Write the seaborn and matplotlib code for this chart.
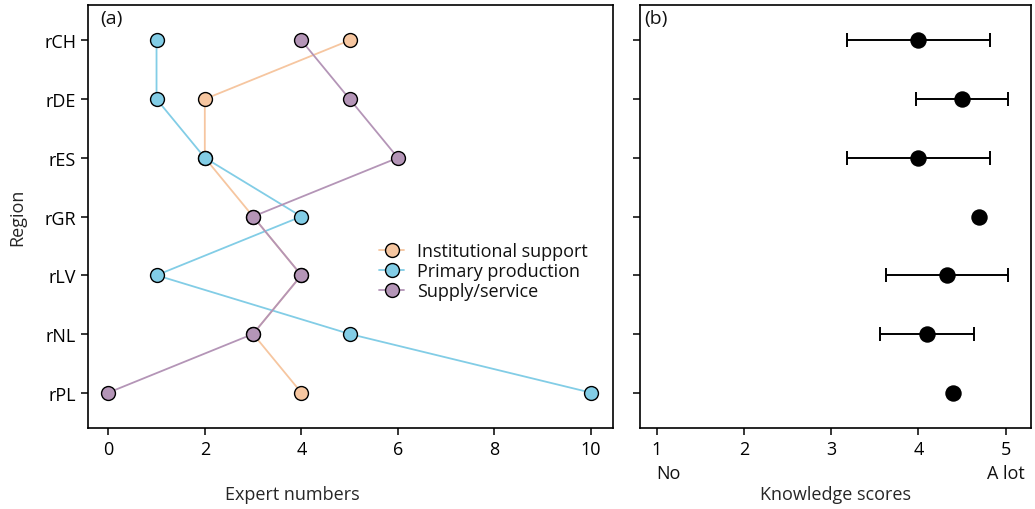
import numpy as np
import pandas as pd
import matplotlib
matplotlib.use("Agg")
import matplotlib.pyplot as plt
from matplotlib.lines import Line2D
import seaborn as sns

regions = ["rCH", "rDE", "rES", "rGR", "rLV", "rNL", "rPL"]
institutional = [5, 2, 2, 3, 4, 3, 4]
primary = [1, 1, 2, 4, 1, 5, 10]
supply = [4, 5, 6, 3, 4, 3, 0]
groups = ["Institutional support", "Primary production", "Supply/service"]
colors = ["#F6C6A0", "#82CDE6", "#B495B7"]

score_mean = [4.0, 4.5, 4.0, 4.7, 4.33, 4.1, 4.4]
score_err = [0.82, 0.53, 0.82, 0.0, 0.70, 0.54, 0.0]

sns.set_theme(style="ticks")
plt.rcParams["font.family"] = ["Open Sans", "DejaVu Sans"]
plt.rcParams["axes.edgecolor"] = "black"
plt.rcParams["axes.linewidth"] = 1.2
plt.rcParams["xtick.color"] = "black"
plt.rcParams["ytick.color"] = "black"
plt.rcParams["text.color"] = "#111111"

FS = 13

fig = plt.figure(figsize=(10.35, 5.10), dpi=100)
axa = fig.add_axes([0.085, 0.159, 0.507, 0.829])
axb = fig.add_axes([0.618, 0.159, 0.378, 0.829])

pos = list(range(len(regions)))
df = pd.DataFrame({
    "value": institutional + primary + supply,
    "pos": pos * 3,
    "group": [groups[0]] * 7 + [groups[1]] * 7 + [groups[2]] * 7,
})

sns.lineplot(data=df, x="value", y="pos", hue="group", hue_order=groups,
             palette=colors, orient="y", marker="o", markersize=10,
             markeredgecolor="black", markeredgewidth=1.0, linewidth=1.3,
             legend=False, ax=axa)

axa.set_ylim(6.6, -0.6)
axa.set_xlim(-0.42, 10.45)
axa.set_yticks(pos)
axa.set_yticklabels(regions)
axa.set_xticks([0, 2, 4, 6, 8, 10])
axa.tick_params(axis="both", labelsize=FS, length=5, width=1.1)
axa.set_xlabel("Expert numbers", fontsize=FS)
axa.set_ylabel("Region", fontsize=FS)
axa.xaxis.set_label_coords(0.39, -0.135)
axa.yaxis.set_label_coords(-0.118, 0.5)
axa.text(0.023, 0.99, "(a)", transform=axa.transAxes, ha="left", va="top", fontsize=FS + 1)

handles = [Line2D([0], [0], color=c, marker="o", markersize=10,
                  markeredgecolor="black", markeredgewidth=1.0, linewidth=1.3)
           for c in colors]
axa.legend(handles, groups, loc="center left", bbox_to_anchor=(0.555, 0.371),
           frameon=False, fontsize=FS, handlelength=1.4, handletextpad=0.7,
           labelspacing=0.12, borderpad=0, borderaxespad=0)

# Panel b
dfb = pd.DataFrame({"score": score_mean, "pos": pos, "err": score_err})
has_err = [e > 0 for e in score_err]
axb.errorbar(np.array(score_mean)[has_err], np.array(pos)[has_err],
             xerr=np.array(score_err)[has_err], fmt="none", ecolor="black",
             elinewidth=1.4, capsize=5, capthick=1.4, zorder=2)
sns.scatterplot(data=dfb, x="score", y="pos", color="black", s=140,
                edgecolor="black", linewidth=0, zorder=3, ax=axb)
axb.set_ylim(6.6, -0.6)
axb.set_xlim(0.805, 5.29)
axb.set_yticks(pos)
axb.set_yticklabels([])
axb.set_ylabel("")
axb.set_xticks([1, 2, 3, 4, 5])
axb.tick_params(axis="both", labelsize=FS, length=5, width=1.1)
axb.set_xlabel("Knowledge scores", fontsize=FS)
axb.xaxis.set_label_coords(0.5, -0.135)
axb.text(0.012, 0.99, "(b)", transform=axb.transAxes, ha="left", va="top", fontsize=FS + 1)
trans = matplotlib.transforms.blended_transform_factory(axb.transData, axb.transAxes)
axb.text(1.0, -0.085, "No", transform=trans, ha="left", va="top", fontsize=FS)
axb.text(5.0, -0.085, "A lot", transform=trans, ha="center", va="top", fontsize=FS)

fig.savefig("out.png", dpi=100)
